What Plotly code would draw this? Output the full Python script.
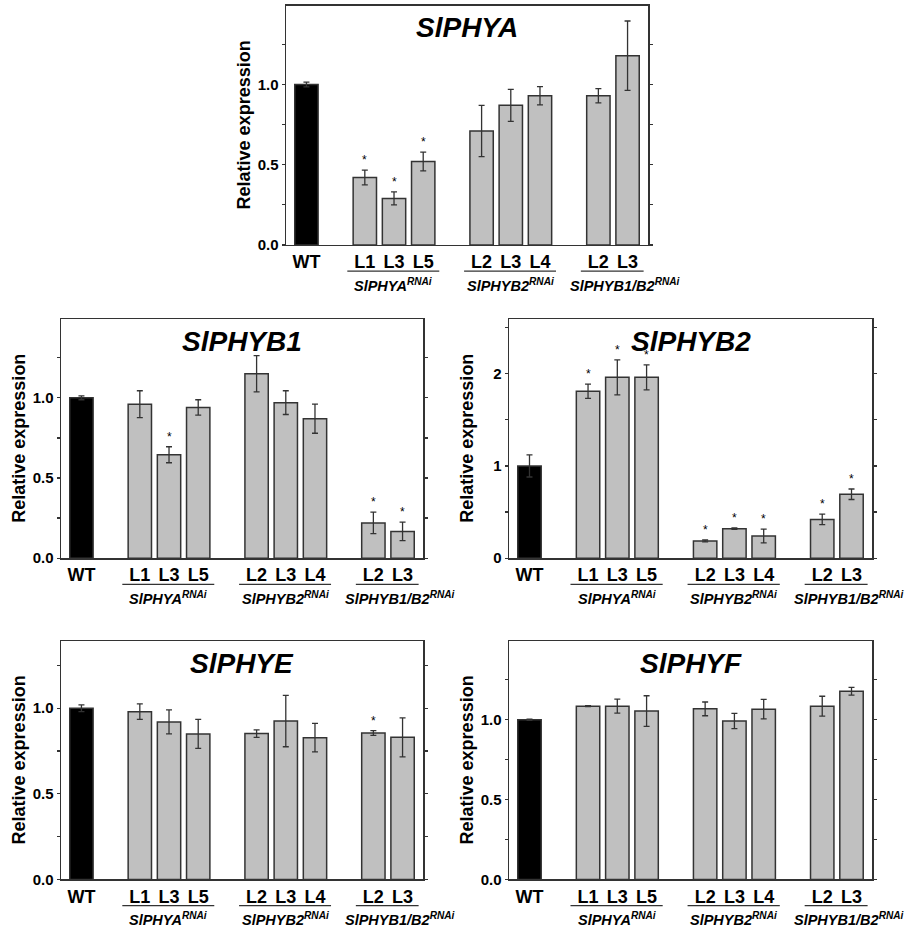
import plotly.graph_objects as go

# ---------------- data ----------------
line_labels = ["WT", "L1", "L3", "L5", "L2", "L3", "L4", "L2", "L3"]
group_sizes = [1, 3, 3, 2]          # WT, SlPHYA RNAi, SlPHYB2 RNAi, SlPHYB1/B2 RNAi
group_names = ["SlPHYA<sup>RNAi</sup>", "SlPHYB2<sup>RNAi</sup>", "SlPHYB1/B2<sup>RNAi</sup>"]

genes = ["SlPHYA", "SlPHYB1", "SlPHYB2", "SlPHYE", "SlPHYF"]

phya_mean = [1.00, 0.42, 0.29, 0.52, 0.71, 0.87, 0.93, 0.93, 1.18]
phya_err = [0.015, 0.046, 0.040, 0.058, 0.160, 0.100, 0.057, 0.045, 0.216]
phya_sig = [0, 1, 1, 1, 0, 0, 0, 0, 0]

phyb1_mean = [1.00, 0.96, 0.645, 0.94, 1.15, 0.97, 0.87, 0.22, 0.167]
phyb1_err = [0.012, 0.084, 0.050, 0.048, 0.113, 0.074, 0.091, 0.067, 0.058]
phyb1_sig = [0, 0, 1, 0, 0, 0, 0, 1, 1]

phyb2_mean = [1.00, 1.81, 1.96, 1.96, 0.187, 0.32, 0.241, 0.42, 0.693]
phyb2_err = [0.12, 0.077, 0.19, 0.135, 0.010, 0.008, 0.074, 0.057, 0.057]
phyb2_sig = [0, 1, 1, 1, 1, 1, 1, 1, 1]

phye_mean = [1.00, 0.98, 0.92, 0.85, 0.852, 0.925, 0.828, 0.855, 0.83]
phye_err = [0.020, 0.045, 0.070, 0.085, 0.022, 0.150, 0.083, 0.014, 0.114]
phye_sig = [0, 0, 0, 0, 0, 0, 0, 1, 0]

phyf_mean = [1.00, 1.085, 1.085, 1.054, 1.068, 0.992, 1.066, 1.085, 1.178]
phyf_err = [0.004, 0.003, 0.044, 0.096, 0.043, 0.048, 0.061, 0.062, 0.024]
phyf_sig = [0, 0, 0, 0, 0, 0, 0, 0, 0]

y_max = [1.49, 1.49, 2.59, 1.39, 1.49]
y_major = [0.5, 0.5, 1.0, 0.5, 0.5]
y_minor = [0.25, 0.25, 0.5, 0.25, 0.25]
y_fmt = [".1f", ".1f", "d", ".1f", ".1f"]

means = [phya_mean, phyb1_mean, phyb2_mean, phye_mean, phyf_mean]
errs = [phya_err, phyb1_err, phyb2_err, phye_err, phyf_err]
sigs = [phya_sig, phyb1_sig, phyb2_sig, phye_sig, phyf_sig]

# ---------------- layout geometry ----------------
W, H = 907, 936
# panel boxes in pixels: (left, right, top, bottom)
boxes = [
    (286, 648, 6, 247),
    (61, 423, 322, 563),
    (509, 872, 322, 563),
    (61, 423, 647, 887),
    (509, 872, 647, 887),
]

# bar positions: one empty slot between groups
xpos = []
group_ranges = []
p = 0
for gi, n in enumerate(group_sizes):
    start = p
    for _ in range(n):
        xpos.append(p)
        p += 1
    group_ranges.append((start, p - 1))
    p += 1

FONT = "Arial, 'Liberation Sans', Helvetica, sans-serif"
AX = "#333333"
fills = ["#000000"] + ["#c0c0c0"] * (len(line_labels) - 1)

fig = go.Figure()
layout = dict(
    width=W, height=H,
    margin=dict(l=0, r=0, t=0, b=0),
    paper_bgcolor="white", plot_bgcolor="white",
    showlegend=False,
    font=dict(family=FONT, color="black"),
    bargap=0.2,
)
annotations = []
shapes = []

for i, gene in enumerate(genes):
    l, r, t, b = boxes[i]
    k = "" if i == 0 else str(i + 1)
    xa, ya = "x" + k, "y" + k
    fig.add_trace(go.Bar(
        x=xpos, y=means[i], width=0.8,
        marker=dict(color=fills, line=dict(color=AX, width=1.5)),
        error_y=dict(type="data", array=errs[i], visible=True,
                     color=AX, thickness=1.3, width=3),
        xaxis=xa, yaxis=ya, hoverinfo="skip",
    ))
    layout["xaxis" + k] = dict(
        domain=[l / W, r / W], anchor=ya, range=[-0.7, 11.7],
        tickvals=xpos, ticktext=["<b>%s</b>" % s for s in line_labels],
        tickfont=dict(size=18, family=FONT, color="black"),
        ticks="", showline=True, linecolor=AX, linewidth=1.5, mirror=True,
        showgrid=False, zeroline=False, fixedrange=True,
    )
    layout["yaxis" + k] = dict(
        domain=[1 - b / H, 1 - t / H], anchor=xa, range=[0, y_max[i]],
        dtick=y_major[i], tick0=0, tickformat=y_fmt[i],
        tickfont=dict(size=15, family=FONT, color="black", weight="bold"),
        ticks="outside", ticklen=3, tickwidth=1.3, tickcolor=AX,
        minor=dict(dtick=y_minor[i], ticks="outside", ticklen=3,
                   tickwidth=1.3, tickcolor=AX),
        showline=True, linecolor=AX, linewidth=1.5, mirror="allticks",
        showgrid=False, zeroline=False, fixedrange=True,
    )
    # gene title
    annotations.append(dict(
        text="<b><i>%s</i></b>" % gene, xref=xa + " domain", yref=ya + " domain",
        x=0.5, y=1, yshift=-22, xanchor="center", yanchor="middle",
        showarrow=False, font=dict(size=28, family=FONT, color="black"),
    ))
    # y-axis title
    annotations.append(dict(
        text="<b>Relative expression</b>", xref=xa + " domain", yref=ya + " domain",
        x=0, y=0.5, xshift=-42, xanchor="center", yanchor="middle", textangle=-90,
        showarrow=False, font=dict(size=18, family=FONT, color="black"),
    ))
    # significance asterisks
    for xv, m, e, s in zip(xpos, means[i], errs[i], sigs[i]):
        if s:
            annotations.append(dict(
                text="*", xref=xa, yref=ya, x=xv, y=m + e, yshift=1,
                xanchor="center", yanchor="bottom", showarrow=False,
                font=dict(size=12, family=FONT, color="black"),
            ))
    # group underlines and labels
    for gi, (g0, g1) in enumerate(group_ranges[1:]):
        shapes.append(dict(
            type="line", xref=xa, yref=ya + " domain",
            x0=g0 - 0.6, x1=g1 + 0.55, y0=-26.5 / (b - t), y1=-26.5 / (b - t),
            line=dict(color=AX, width=1.3),
        ))
        if gi < 2:
            ax_x, anchor = (g0 + g1) / 2 - 0.02, "center"
        else:
            ax_x, anchor = g0 - 1.05, "left"
        annotations.append(dict(
            text="<b><i>%s</i></b>" % group_names[gi], xref=xa, yref=ya + " domain",
            x=ax_x, y=0, yshift=-40, xanchor=anchor, yanchor="middle",
            showarrow=False, font=dict(size=14.5, family=FONT, color="black"),
        ))

layout["annotations"] = annotations
layout["shapes"] = shapes
fig.update_layout(**layout)
fig.write_html("out.html",
               config={"displayModeBar": False, "staticPlot": True},
               post_script="document.body.style.margin='0';document.body.style.overflow='hidden';")
